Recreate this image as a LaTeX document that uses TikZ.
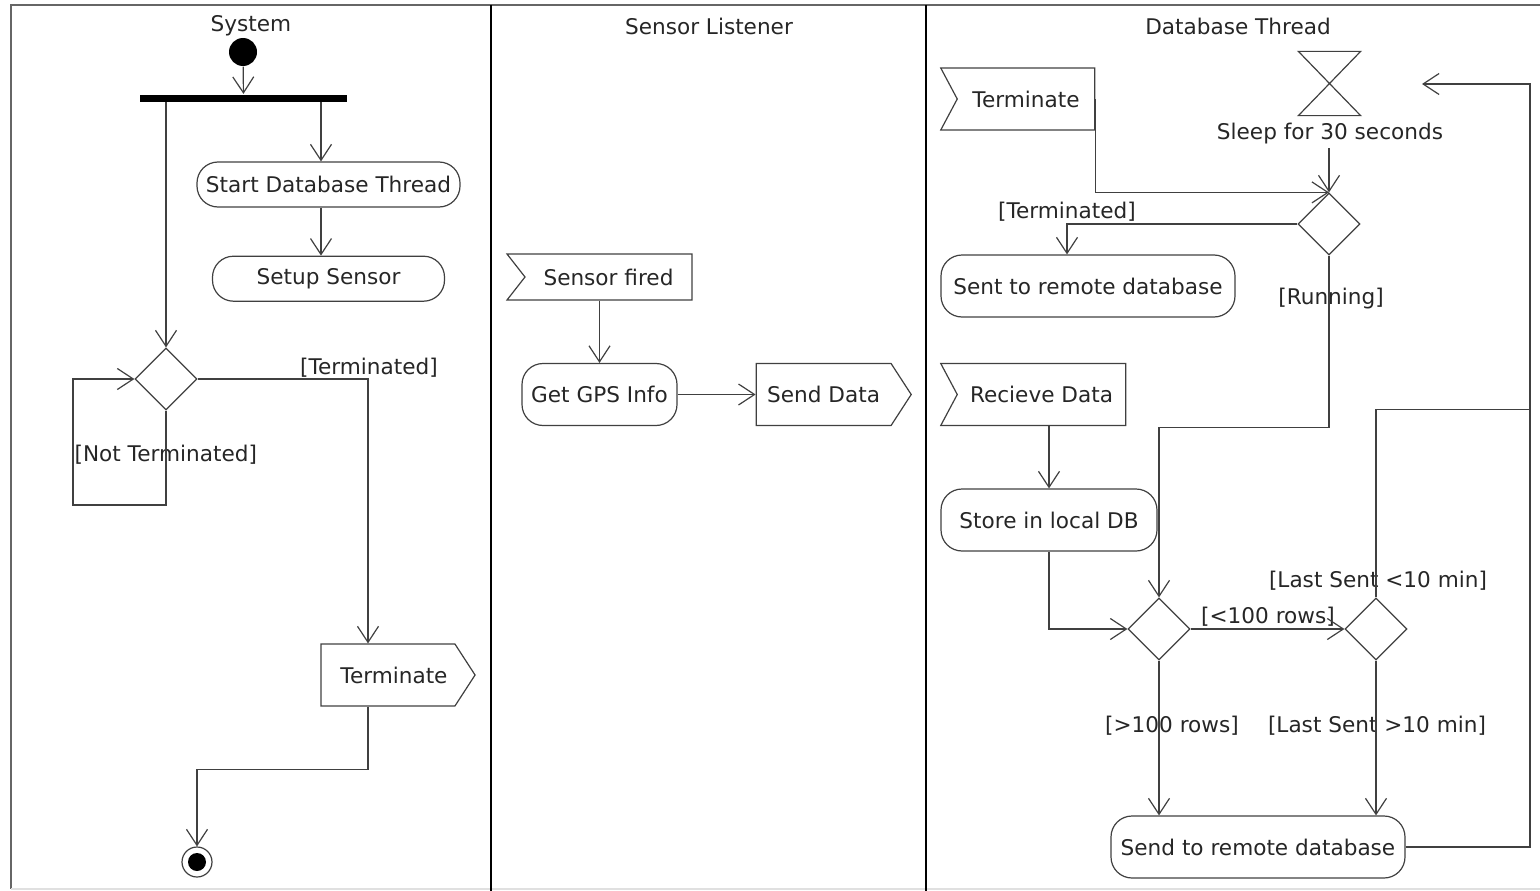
\documentclass[tikz,border=0pt]{standalone}
\usepackage{fontspec}
\setmainfont{DejaVu Sans}
\usetikzlibrary{positioning,shapes.geometric,shapes.symbols,arrows.meta}

\begin{document}
\begin{tikzpicture}[%
        x=1pt, y=-1pt,
        ->,
        >={Straight Barb[length=16pt,width=21pt]},
        line width=1.2pt,
        color=black!75,
        every node/.style={font=\fontsize{21.6}{25}\selectfont, text=black!85},
        action/.style={%
          draw, rounded corners=21pt,
          minimum height=62pt, inner sep=0pt
        },
        decision/.style={diamond, draw, minimum width=62pt, minimum height=62pt, inner sep=0pt},
        sendsig/.style={signal, signal to=east, draw, minimum height=62pt, inner sep=0pt, signal pointer angle=114},
        acceptev/.style={signal, signal to=nowhere, signal from=west, draw, minimum height=62pt, inner sep=0pt, signal pointer angle=124},
        initnode/.style={circle, fill=black, minimum size=28pt, inner sep=0pt},
        finalnode/.style={circle, draw, minimum size=30pt, inner sep=0pt,
          path picture={\fill[black] (path picture bounding box.center) circle (9pt);}},
        forkbar/.style={rectangle, fill=black, minimum width=207pt, minimum height=7pt, inner sep=0pt},
        guard/.style={inner sep=0pt}
      ]
      \useasboundingbox (0,0) rectangle (1540,891);

      % swimlanes
      \draw[-, black!60] (1540,5) -- (11,5) -- (11,889);
      \draw[-, black!12] (11,889) -- (1540,889);
      \draw[-, black, line width=2.4pt] (491,5) -- (491,891);
      \draw[-, black, line width=2.4pt] (926,5) -- (926,891);
      \node (lsys) at (251,26) {System};
      \node (lsen) at (709,26) {Sensor Listener};
      \node (ldb) at (1238,26) {Database Thread};

      % System
      \node[initnode] (start) at (243,52) {};
      \node[forkbar] (fork) at (243.5,98) {};
      \node[action, minimum width=263pt, minimum height=45pt] (startdb) at (328.5,184.5) {Start Database Thread};
      \node[action, minimum width=232pt, minimum height=45pt] (setup) [below=48pt of startdb] {Setup Sensor};
      \node[decision] (chk) at (166,379) {};
      \node[sendsig, minimum width=154pt] (systerm) at (388,675) {\hspace{12pt}Terminate};
      \node[finalnode] (stop) at (197,862) {};
      \node[guard, anchor=west] (gnot) at (74,455) {[Not Terminated]};
      \node[guard] (gterm) at (369,368) {[Terminated]};

      % Sensor Listener
      \node[acceptev, minimum width=185pt, minimum height=46pt, signal pointer angle=104] (fired) at (608.5,277) {Sensor fired};
      \node[action, minimum width=155pt] (gps) at (599.5,394.5) {Get GPS Info};
      \node[sendsig, minimum width=155pt] (senddata) [right=78pt of gps] {Send Data};

      % Database Thread
      \node[acceptev, minimum width=154pt] (dbterm) at (1026,99) {Terminate};
      \node[inner sep=0pt, minimum width=61pt, minimum height=63pt] (hg) at (1329.5,83.5) {};
      \node (sleeptxt) at (1330,134) {Sleep for 30 seconds};
      \node[decision] (run) at (1329,224) {};
      \node[action, minimum width=294pt] (sent) at (1088,286) {Sent to remote database};
      \node[acceptev, minimum width=185pt] (recv) at (1041.5,394.5) {Recieve Data};
      \node[action, minimum width=216pt] (store) at (1049,520) {Store in local DB};
      \node[decision] (rows) at (1159,629) {};
      \node[decision] (age) at (1376,629) {};
      \node[action, minimum width=294pt] (remote) at (1258,847) {Send to remote database};
      \node[guard] (gdbterm) at (1067,212) {[Terminated]};
      \node[guard] (grun) at (1331,299) {[Running]};
      \node[guard] (gless) at (1268,617) {[<100 rows]};
      \node[guard] (grecent) at (1378,581) {[Last Sent <10 min]};
      \node[guard] (gmore) at (1172,726) {[>100 rows]};
      \node[guard] (gold) at (1377,726) {[Last Sent >10 min]};
      \draw[-] (hg.north west) -- (hg.north east) -- (hg.south west) -- (hg.south east) -- cycle;

      \coordinate (sx) at (321,0);
      \coordinate (tx) at (368,0);
      \coordinate (loopc) at (73,505);
      \coordinate (tdx) at (1067,0);
      \coordinate (rx) at (1530,84);
      \coordinate (sleepin) at (1422,84);

      \draw (start) -- (fork);
      \draw (chk.north |- fork.south) -- (chk.north);
      \draw (sx |- fork.south) -- (sx |- startdb.north);
      \draw (sx |- startdb.south) -- (sx |- setup.north);
      \draw (chk.south) |- (loopc) |- (chk.west);
      \draw (chk.east) -| (tx |- systerm.north);
      \draw (tx |- systerm.south) -- ++(0,63) -| (stop.north);

      \draw (gps.north |- fired.south) -- (gps.north);
      \draw (gps.east) -- (senddata.west);

      \draw (dbterm.east) |- (run.north);
      \draw (run.north |- sleeptxt.south) -- (run.north);
      \draw (run.west) -| (tdx |- sent.north);
      \draw (run.south) -- ++(0,172) -| (rows.north);
      \draw (store.north |- recv.south) -- (store.north);
      \draw (store.south) |- (rows.west);
      \draw (rows.east) -- (age.west);
      \draw (age.north) -- ++(0,-188) -| (rx) -- (sleepin);
      \draw (rows.south) -- (rows.south |- remote.north);
      \draw (age.south) -- (age.south |- remote.north);
      \draw[-] (remote.east) -| (rx);

  \end{tikzpicture}
\end{document}
